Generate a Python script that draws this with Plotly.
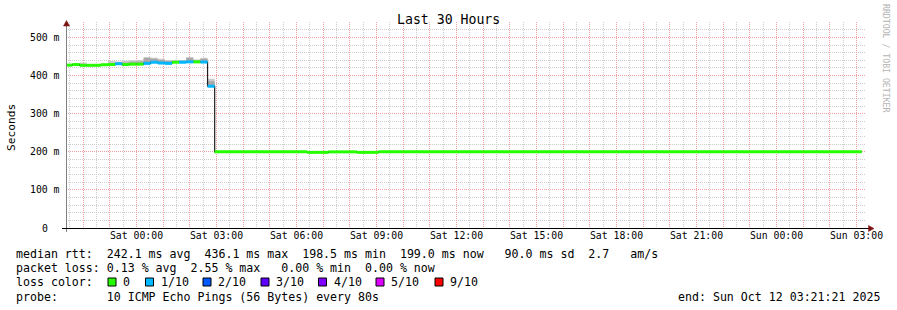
import plotly.graph_objects as go
import pandas as pd

# ---------------- data ----------------
T_START = "2025-10-10 21:21:21"
T_END = "2025-10-12 03:21:21"
DATA_END = "2025-10-12 03:11:51"

# bin edges of the first (pre-drop) part: partial first bin, then 16-minute steps
bin_edges = [T_START] + [t.strftime("%Y-%m-%d %H:%M:%S")
                         for t in pd.date_range("2025-10-10 21:35:51", periods=21, freq="16min")]
pre_median = [427.5, 429, 427, 427, 427, 428.5, 429, 431, 429, 430, 430,
              432, 435, 433, 432, 435, 435, 436, 436, 435.5, 372]
pre_loss = [0, 0, 0, 0, 0, 0, 0, 1, 0, 0, 0, 1, 1, 1, 1, 0, 1, 1, 0, 1, 1]
smoke_top = [427.5, 433, 434, 429, 429, 431, 438, 437, 439, 440, 441,
             449, 447, 444, 441, 441, 441, 449, 442, 447, 392]
smoke_core = [427.5, 431, 430, 428, 428, 430, 433, 434, 434, 436, 437,
              446, 444, 441, 438, 438, 439, 446, 440, 444, 385]

# flat part after the drop (change points)
flat_times = ["2025-10-11 02:55:51", "2025-10-11 06:23:51", "2025-10-11 07:11:51",
              "2025-10-11 08:15:51", "2025-10-11 09:03:51"]
flat_median = [199.8, 198.5, 199.8, 198.5, 199.8]
flat_loss = [0, 0, 0, 0, 0]

loss_levels = [0, 1, 2, 3, 4, 5, 9]
loss_labels = ["0", "1/10", "2/10", "3/10", "4/10", "5/10", "9/10"]
loss_colors = ["#26ff00", "#00b8ff", "#0059ff", "#5e00ff", "#7e00ff", "#dd00ff", "#ff0000"]

y_major = [0, 100, 200, 300, 400, 500]
y_labels = ["0", "100 m", "200 m", "300 m", "400 m", "500 m"]
y_minor = [v for v in range(20, 541, 20) if v % 100 != 0]

stat_lines = [
    "median rtt:  242.1 ms avg  436.1 ms max  198.5 ms min  199.0 ms now   90.0 ms sd  2.7   am/s",
    "packet loss: 0.13 % avg  2.55 % max   0.00 % min  0.00 % now",
    "loss color:",
    "probe:       10 ICMP Echo Pings (56 Bytes) every 80s",
]
end_text = "end: Sun Oct 12 03:21:21 2025"
title_text = "Last 30 Hours"

# ---------------- geometry helpers ----------------
W_IMG, H_IMG = 897, 310
L, W = 66, 800
T, B = 22, 228
H = B - T
def px(x):
    return (x - L) / W
def py(y):
    return (B - y) / H

MONO = "DejaVu Sans Mono"
def nb(s):
    return s.replace(" ", "\u00a0")

fig = go.Figure()

# smoke
sm_x = bin_edges
sm_lo = pre_median + [pre_median[-1]]
sm_hi = smoke_top + [smoke_top[-1]]
sm_core = smoke_core + [smoke_core[-1]]
fig.add_trace(go.Scatter(x=sm_x, y=sm_lo, mode="lines", line=dict(width=0, shape="hv"),
                         showlegend=False, hoverinfo="skip"))
fig.add_trace(go.Scatter(x=sm_x, y=sm_hi, mode="lines", line=dict(width=0, shape="hv"),
                         fill="tonexty", fillcolor="#cacaca", showlegend=False, hoverinfo="skip"))
fig.add_trace(go.Scatter(x=sm_x, y=sm_lo, mode="lines", line=dict(width=0, shape="hv"),
                         showlegend=False, hoverinfo="skip"))
fig.add_trace(go.Scatter(x=sm_x, y=sm_core, mode="lines", line=dict(width=0, shape="hv"),
                         fill="tonexty", fillcolor="#a8a8a8", showlegend=False, hoverinfo="skip"))

# median
all_starts = bin_edges[:-1] + flat_times
all_ends = bin_edges[1:] + flat_times[1:] + [DATA_END]
all_vals = pre_median + flat_median
all_loss = pre_loss + flat_loss
n = len(all_vals)

fig.add_trace(go.Scatter(x=all_starts + [DATA_END], y=all_vals + [all_vals[-1]], mode="lines",
                         line=dict(width=1.2, color="#202020", shape="hv"),
                         showlegend=False, hoverinfo="skip"))

for lvl, col in zip(loss_levels, loss_colors):
    xs, ys = [], []
    for i in range(n):
        if all_loss[i] != lvl:
            continue
        xs += [all_starts[i], all_ends[i], None]
        ys += [all_vals[i], all_vals[i], None]
    if xs:
        fig.add_trace(go.Scatter(x=xs, y=ys, mode="lines",
                                 line=dict(width=3, color=col),
                                 connectgaps=False, showlegend=False, hoverinfo="skip"))

# ---------------- axes ----------------
hours = pd.date_range("2025-10-10 22:00", "2025-10-12 03:00", freq="h")
x_tickvals = [h.strftime("%Y-%m-%d %H:%M:%S") for h in hours]
x_ticktext = [h.strftime("%a %H:%M") if h.hour % 3 == 0 else "" for h in hours]
halfs = pd.date_range("2025-10-10 21:30", "2025-10-12 02:30", freq="h")
x_minor = [h.strftime("%Y-%m-%d %H:%M:%S") for h in halfs]

GRID_MAJ = "rgb(240,160,160)"
GRID_MIN = "rgb(205,205,205)"

fig.update_xaxes(type="date", range=[T_START, T_END], tickmode="array",
                 tickvals=x_tickvals, ticktext=x_ticktext, showgrid=True,
                 gridcolor=GRID_MAJ, griddash="1px,1px", gridwidth=1,
                 minor=dict(tickvals=x_minor, showgrid=True, gridcolor=GRID_MIN,
                            griddash="1px,1px", gridwidth=1),
                 ticks="", tickfont=dict(family=MONO, size=9.8, color="#000"),
                 zeroline=False, showline=False, fixedrange=True)
fig.update_yaxes(range=[0, 540.6], tickmode="array", tickvals=y_major, showticklabels=False,
                 showgrid=True, gridcolor=GRID_MAJ, griddash="1px,1px", gridwidth=1,
                 minor=dict(tickvals=y_minor, showgrid=True, gridcolor=GRID_MIN,
                            griddash="1px,1px", gridwidth=1),
                 ticks="", zeroline=False, showline=False, fixedrange=True)

annotations = []
for v, t in zip(y_major, y_labels):
    annotations.append(dict(x=px(45), y=v, xref="paper", yref="y", text=nb(t), showarrow=False,
                            xanchor="center", yanchor="middle",
                            font=dict(family=MONO, size=9.8, color="#000")))
annotations.append(dict(x=px(448), y=py(19), xref="paper", yref="paper", text=nb(title_text),
                        showarrow=False, xanchor="center", yanchor="middle",
                        font=dict(family=MONO, size=13.2, color="#000")))
annotations.append(dict(x=px(11), y=py(127), xref="paper", yref="paper", text="Seconds",
                        showarrow=False, xanchor="center", yanchor="middle", textangle=-90,
                        font=dict(family=MONO, size=11.2, color="#000")))
annotations.append(dict(x=px(886), y=py(59), xref="paper", yref="paper",
                        text=nb("RRDTOOL / TOBI OETIKER"), showarrow=False,
                        xanchor="center", yanchor="middle", textangle=90,
                        font=dict(family=MONO, size=8.2, color="#b4b4b4")))
line_y = [253.5, 268, 282, 296.5]
for s, yy in zip(stat_lines, line_y):
    annotations.append(dict(x=px(14), y=py(yy), xref="paper", yref="paper", text=nb(s),
                            showarrow=False, xanchor="left", yanchor="middle",
                            font=dict(family=MONO, size=11.6, color="#000")))
annotations.append(dict(x=px(882), y=py(296.5), xref="paper", yref="paper", text=nb(end_text),
                        showarrow=False, xanchor="right", yanchor="middle",
                        font=dict(family=MONO, size=11.6, color="#000")))

shapes = []
box_x = [108, 145.5, 203, 261, 318.5, 376, 435]
for bx, col, lab in zip(box_x, loss_colors, loss_labels):
    shapes.append(dict(type="rect", xref="paper", yref="paper",
                       x0=px(bx), x1=px(bx + 8), y0=py(286), y1=py(278),
                       fillcolor=col, line=dict(color="#000", width=1)))
    annotations.append(dict(x=px(bx + 13), y=py(282), xref="paper", yref="paper", text=nb(lab),
                            showarrow=False, xanchor="left", yanchor="middle",
                            font=dict(family=MONO, size=11.6, color="#000")))

# axis lines
shapes.append(dict(type="line", xref="paper", yref="paper", x0=px(66.5), x1=px(66.5),
                   y0=py(232), y1=py(24), line=dict(color="#808080", width=1)))
shapes.append(dict(type="line", xref="paper", yref="paper", x0=px(62), x1=px(869),
                   y0=py(228.5), y1=py(228.5), line=dict(color="#000", width=1)))
# arrows
shapes.append(dict(type="path", xref="paper", yref="paper",
                   path=f"M {px(66.5)},{py(20.5)} L {px(63.5)},{py(26)} L {px(69.5)},{py(26)} Z",
                   fillcolor="#7f1010", line=dict(color="#7f1010", width=0.5)))
shapes.append(dict(type="path", xref="paper", yref="paper",
                   path=f"M {px(874)},{py(228.5)} L {px(868.5)},{py(225.5)} L {px(868.5)},{py(231.5)} Z",
                   fillcolor="#7f1010", line=dict(color="#7f1010", width=0.5)))

fig.update_layout(width=W_IMG, height=H_IMG, autosize=False,
                  margin=dict(l=L, r=W_IMG - L - W, t=T, b=H_IMG - B),
                  paper_bgcolor="white", plot_bgcolor="white",
                  annotations=annotations, shapes=shapes, showlegend=False)

fig.write_html("out.html")
